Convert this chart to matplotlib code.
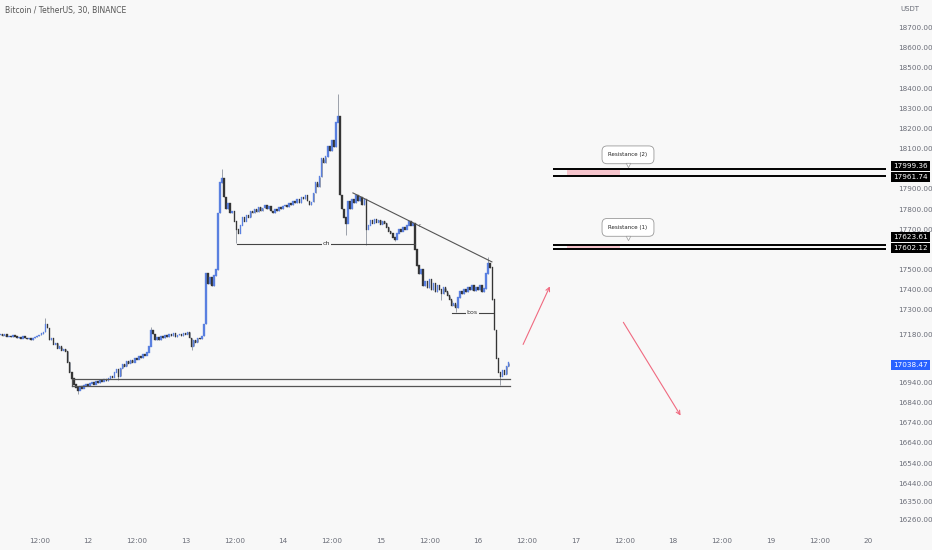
import numpy as np
import matplotlib.pyplot as plt
from matplotlib.transforms import blended_transform_factory

# ---------------------------------------------
# Data: 30-min closes of BTC/USDT
# time axis = hours since day 11 00:00
# ---------------------------------------------
first_open = 17175
closes = [
    17180, 17172, 17176, 17168, 17170, 17165, 17172, 17168, 17160, 17164,
    17158, 17166, 17160, 17155, 17158, 17150, 17160, 17165, 17170, 17175,
    17182, 17190, 17230, 17210, 17150, 17160, 17130, 17135, 17110, 17118,
    17100, 17105, 17095, 17040, 16990, 16960, 16930, 16915, 16900, 16920,
    16910, 16925, 16930, 16922, 16935, 16940, 16930, 16945, 16938, 16950,
    16945, 16955, 16948, 16960, 16970, 16965, 16990, 17005, 16970, 17010,
    17030, 17020, 17045, 17035, 17050, 17040, 17060, 17055, 17070, 17062,
    17080, 17075, 17090, 17120, 17200, 17180, 17150, 17165, 17150, 17170,
    17160, 17175, 17165, 17180, 17170, 17185, 17165, 17175, 17180, 17170,
    17185, 17178, 17190, 17160, 17120, 17150, 17140, 17160, 17155, 17170,
    17230, 17480, 17430, 17460, 17420, 17470, 17500, 17780, 17930, 17950,
    17860, 17800, 17830, 17780, 17790, 17740, 17700, 17680, 17720, 17760,
    17740, 17770, 17760, 17790, 17780, 17800, 17785, 17810, 17790, 17805,
    17820, 17800, 17815, 17790, 17780, 17800, 17790, 17810, 17800, 17815,
    17820, 17810, 17830, 17820, 17840, 17830, 17850, 17830, 17860, 17850,
    17870, 17840, 17820, 17835, 17880, 17930, 17910, 17960, 18050, 18030,
    18060, 18110, 18090, 18140, 18110, 18230, 18260, 17870, 17800, 17760,
    17730, 17840, 17800, 17850, 17830, 17870, 17840, 17860, 17820, 17850,
    17700, 17720, 17745, 17730, 17750, 17735, 17745, 17725, 17740, 17730,
    17710, 17690, 17680, 17660, 17650, 17680, 17700, 17690, 17710, 17700,
    17720, 17740, 17720, 17730, 17600, 17520, 17480, 17500, 17420, 17440,
    17410, 17450, 17400, 17430, 17390, 17420, 17400, 17380, 17410, 17390,
    17370, 17350, 17320, 17330, 17310, 17360, 17390, 17380, 17400, 17390,
    17410, 17400, 17420, 17395, 17410, 17400, 17420, 17390, 17405, 17480,
    17530, 17510, 17350, 17200, 17060, 16990, 16970, 17000, 16980, 17020,
    17038.47,
]
start_hour = 2.5
# notable wicks: bar index -> price
wick_highs = {22: 17260, 74: 17215, 109: 18000, 166: 18370, 240: 17560}
wick_lows = {38: 16885, 58: 16950, 94: 17100, 116: 17630, 170: 17670,
             180: 17620, 194: 17640, 217: 17350, 224: 17290, 246: 16925}

# drawings
zone_low, zone_high = 16923, 16958
ch_level = 17627
bos_level = 17285
trend_start, trend_end = 17880, 17538
res2_levels = [17999.36, 17961.74]
res1_levels = [17623.61, 17602.12]
last_price = 17038.47

ytick_values = [18700, 18600, 18500, 18400, 18300, 18200, 18100, 17900, 17800,
                17700, 17500, 17400, 17300, 17180, 16940, 16840, 16740, 16640,
                16540, 16440, 16350, 16260]
xtick_hours = [12, 24, 36, 48, 60, 72, 84, 96, 108, 120, 132, 144, 156, 168,
               180, 192, 204, 216]
xtick_labels = ["12:00", "12", "12:00", "13", "12:00", "14", "12:00", "15",
                "12:00", "16", "12:00", "17", "12:00", "18", "12:00", "19",
                "12:00", "20"]

BG = "#f8f8f8"
UP = "#5a80e0"
DOWN = "#353535"
TXT = "#6a6d78"

fig = plt.figure(figsize=(9.32, 5.5), dpi=100, facecolor=BG)
ax = fig.add_axes([0, 20 / 550, 886 / 932, 530 / 550], facecolor=BG)

# ----- candles -----
closes = np.array(closes, dtype=float)
opens = np.concatenate([[first_open], closes[:-1]])
t = start_hour + 0.5 * np.arange(len(closes))
highs = np.maximum(opens, closes)
lows = np.minimum(opens, closes)
for i, v in wick_highs.items():
    highs[i] = v
for i, v in wick_lows.items():
    lows[i] = v
up = closes >= opens
colors = np.where(up, UP, DOWN)
ax.vlines(t, lows, highs, colors="#9ca1aa", linewidth=0.7, zorder=1)
ax.bar(t, np.abs(closes - opens) + 4, bottom=np.minimum(opens, closes) - 2,
       width=0.38, color=colors, edgecolor=colors, linewidth=0.25, zorder=2)

# ----- structure drawings -----
ax.plot([20.1, 127.9], [zone_high, zone_high], color="#555555", lw=0.9, zorder=3)
ax.plot([20.1, 127.9], [zone_low, zone_low], color="#555555", lw=0.9, zorder=3)
ax.plot([20.1, 20.1], [zone_low, zone_high], color="#555555", lw=0.9, zorder=3)

ax.plot([60.7, 104.5], [ch_level, ch_level], color="#444444", lw=0.8, zorder=3)
ax.text(82.6, ch_level, "ch", fontsize=4.5, ha="center", va="center", zorder=4,
        color="#333333", bbox=dict(facecolor=BG, edgecolor="none", pad=0.6))

ax.plot([89.2, 123.4], [trend_start, trend_end], color="#555555", lw=0.8, zorder=3)
ax.text(105.5, 17718, "r", fontsize=3.5, ha="center", va="center", color="#555555")

ax.plot([113.6, 123.7], [bos_level, bos_level], color="#444444", lw=0.8, zorder=3)
ax.text(118.6, bos_level, "bos", fontsize=4.5, ha="center", va="center", zorder=4,
        color="#333333", bbox=dict(facecolor=BG, edgecolor="none", pad=0.6))

# ----- resistance zones -----
x_end = 221
for levels, label, label_y in [(res2_levels, "Resistance (2)", 18069),
                               (res1_levels, "Resistance (1)", 17709)]:
    for lv in levels:
        ax.plot([138.5, x_end], [lv, lv], color="black", lw=1.4, solid_capstyle="butt")
    ax.fill_between([141.9, 154.9], levels[1], levels[0], color="#f6c4cc", lw=0)
    ax.text(156.9, label_y, label, fontsize=4, ha="center", va="center", color="#222222",
            bbox=dict(boxstyle="round,pad=1.15,rounding_size=0.9", facecolor="white",
                      edgecolor="#9a9a9a", linewidth=0.6))
    ax.plot([156.9], [label_y - 52], marker="v", markersize=3.2, color="white",
            markeredgecolor="#9a9a9a", markeredgewidth=0.5, zorder=5)

# ----- projected moves -----
arrow_kw = dict(arrowstyle="->", color="#f06a80", lw=0.8, mutation_scale=7)
ax.annotate("", xy=(137.96, 17429), xytext=(130.8, 17116), arrowprops=arrow_kw)
ax.annotate("", xy=(170.2, 16764), xytext=(155.4, 17250), arrowprops=arrow_kw)

# ----- axes -----
ax.set_xlim(2.34, 220.4)
ax.set_ylim(16208, 18837)
for s in ax.spines.values():
    s.set_visible(False)
ax.yaxis.tick_right()
ax.set_yticks(ytick_values)
ax.set_yticklabels([f"{v:.2f}" for v in ytick_values])
ax.set_xticks(xtick_hours)
ax.set_xticklabels(xtick_labels)
ax.tick_params(axis="both", length=0, labelsize=5.2, colors=TXT)
ax.tick_params(axis="y", pad=9)
ax.tick_params(axis="x", pad=6)

# price boxes on the right scale
tr = blended_transform_factory(ax.transAxes, ax.transData)
for val, ypos, bg in [(17999.36, 18014, "black"), (17961.74, 17960, "black"),
                      (17623.61, 17662, "black"), (17602.12, 17608, "black"),
                      (last_price, 17028, "#2962ff")]:
    ax.text(1.0085, ypos, f"{val:.2f}", transform=tr, fontsize=5.2, color="white",
            ha="left", va="center", clip_on=False, zorder=10,
            bbox=dict(facecolor=bg, edgecolor="none", pad=1.5))

fig.text(5 / 932, 1 - 10 / 550, "Bitcoin / TetherUS, 30, BINANCE", fontsize=5.5,
         color="#555555", ha="left", va="center")
fig.text(900 / 932, 1 - 9 / 550, "USDT", fontsize=5, color=TXT, ha="left", va="center")

fig.savefig("out.png", dpi=100, facecolor=BG)
